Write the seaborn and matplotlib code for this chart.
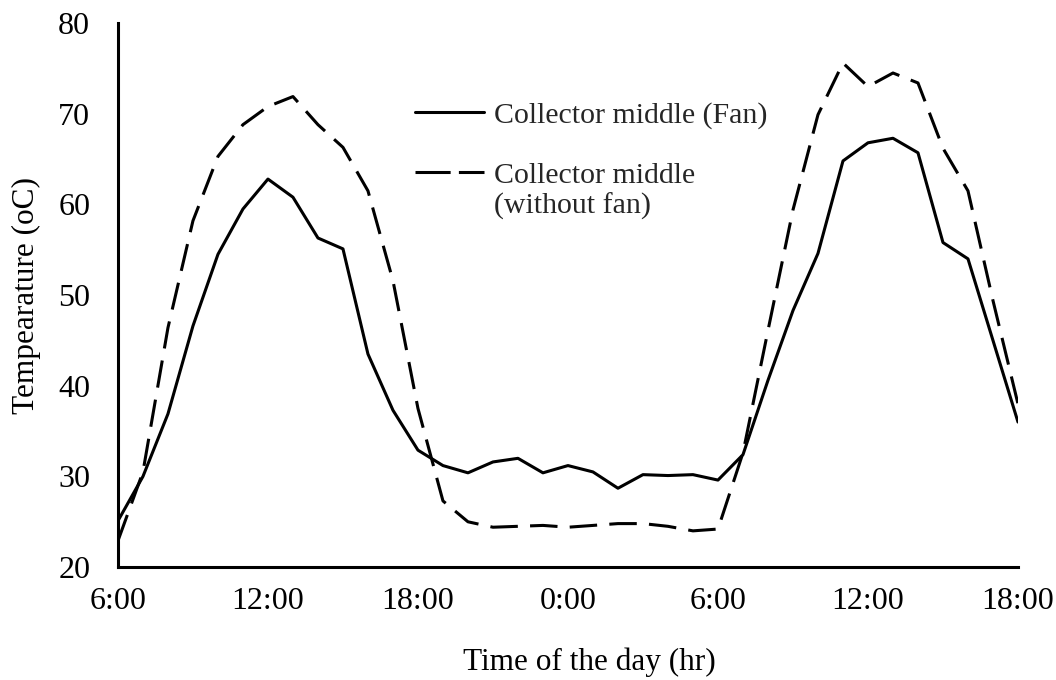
import pandas as pd
import matplotlib
matplotlib.use("Agg")
import matplotlib.pyplot as plt
import seaborn as sns

# Hourly readings from 6:00 on day one to 18:00 on day two
hours = list(range(37))
fan_temp = [25.1, 30.0, 36.9, 46.6, 54.5, 59.5, 62.8, 60.8, 56.3, 55.1, 43.5, 37.3, 32.9,
            31.2, 30.4, 31.6, 32.0, 30.4, 31.2, 30.5, 28.7, 30.2, 30.1, 30.2, 29.6,
            32.4, 40.6, 48.3, 54.6, 64.8, 66.8, 67.3, 65.7, 55.8, 54.0, 45.0, 36.0]
nofan_temp = [22.9, 30.5, 46.4, 58.2, 65.3, 68.8, 70.8, 71.9, 68.8, 66.3, 61.5, 51.6, 37.5,
              27.3, 25.0, 24.4, 24.5, 24.6, 24.4, 24.6, 24.8, 24.8, 24.5, 24.0, 24.2,
              32.6, 46.1, 59.4, 69.9, 75.6, 73.0, 74.5, 73.4, 66.2, 61.5, 49.4, 38.0]
tick_hours = [0, 6, 12, 18, 24, 30, 36]
tick_labels = ['6:00', '12:00', '18:00', '0:00', '6:00', '12:00', '18:00']
y_ticks = [20, 30, 40, 50, 60, 70, 80]

df = pd.DataFrame({'hour': hours, 'fan': fan_temp, 'nofan': nofan_temp})

sns.set_theme(style='white')
plt.rcParams['font.family'] = ['Liberation Serif', 'DejaVu Serif']

fig = plt.figure(figsize=(10.56, 6.8), dpi=100)
ax = fig.add_axes([0.1117, 0.166, 0.9640 - 0.1117, 0.966 - 0.166])

sns.lineplot(data=df, x='hour', y='fan', color='black', linewidth=2.2,
             label='Collector middle (Fan)', ax=ax)
sns.lineplot(data=df, x='hour', y='nofan', color='black', linewidth=2.2,
             linestyle=(0, (9, 4)), label='Collector middle\n(without fan)', ax=ax)

ax.set_xlim(0, 36)
ax.set_ylim(20, 80)
ax.set_xticks(tick_hours)
ax.set_xticklabels(tick_labels)
ax.set_yticks(y_ticks)

for side in ['top', 'right']:
    ax.spines[side].set_visible(False)
for side in ['left', 'bottom']:
    ax.spines[side].set_color('black')
    ax.spines[side].set_linewidth(2.2)

ax.tick_params(axis='both', direction='in', length=6, width=2.2, colors='black',
               labelsize=23)
ax.tick_params(axis='y', pad=20)
ax.tick_params(axis='x', pad=14)

ax.set_xlabel('Time of the day (hr)', fontsize=22.5, color='black')
ax.set_ylabel('Tempearature (oC)', fontsize=22.5, color='black')
ax.xaxis.set_label_coords(0.524, -0.147)
ax.yaxis.set_label_coords(-0.0856, 0.5)

leg_size = 21.5
leg = ax.legend(frameon=False, loc='upper left', bbox_to_anchor=(0.33, 0.855),
                borderpad=0, borderaxespad=0, fontsize=leg_size, handlelength=2.3,
                handletextpad=0.35, labelspacing=1.13)
# line the dashed key up with the first line of its two-line label, like Excel does
dash_key = leg.legend_handles[1]
dash_key.set_ydata([y + 0.64 * leg_size for y in dash_key.get_ydata()])
dash_key.set_linestyle((0, (11.5, 2.7)))

plt.savefig('out.png', dpi=100)
